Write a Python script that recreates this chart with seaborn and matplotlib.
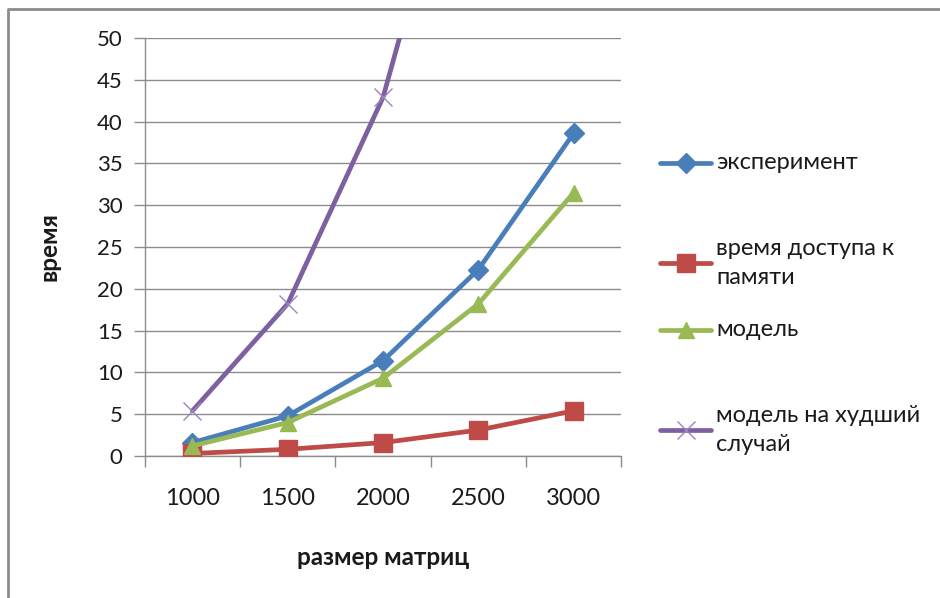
import matplotlib
matplotlib.use("Agg")
import matplotlib.pyplot as plt
from matplotlib.lines import Line2D
import seaborn as sns
import pandas as pd

# Matrix sizes and measured / modelled times
sizes = ["1000", "1500", "2000", "2500", "3000"]
experiment = [1.6, 4.8, 11.4, 22.3, 38.6]
memory_access = [0.3, 0.8, 1.6, 3.1, 5.4]
model = [1.2, 4.0, 9.3, 18.2, 31.5]
worst_case = [5.4, 18.2, 42.9, 84.0, 146.0]

series_names = ["эксперимент", "время доступа к\nпамяти", "модель",
                "модель на худший\nслучай"]
series_values = [experiment, memory_access, model, worst_case]
colors = ["#4A7EBB", "#BE4B48", "#98B954", "#7D60A0"]
markers = ["D", "s", "^", "x"]
marker_sizes = [10, 13, 12, 13]

y_ticks = list(range(0, 55, 5))

sns.set_theme(style="white")
plt.rcParams["font.family"] = ["Lato", "DejaVu Sans"]

rows = []
for name, vals in zip(series_names, series_values):
    for i, v in enumerate(vals):
        rows.append({"pos": i, "value": v, "series": name})
df = pd.DataFrame(rows)

fig = plt.figure(figsize=(9.4, 5.98), dpi=100)
ax = fig.add_axes([0.154, 0.2375, 0.507, 0.699])

cross_color = "#9A85C0"
for name, col, mk, ms in zip(series_names, colors, markers, marker_sizes):
    sub = df[df["series"] == name]
    sns.lineplot(data=sub, x="pos", y="value", ax=ax, color=col, lw=3.4,
                 marker=mk, markersize=ms,
                 markeredgecolor=col if mk != "x" else cross_color,
                 markeredgewidth=1.0,
                 markerfacecolor=col if mk != "x" else "none",
                 legend=False, zorder=3)

ax.set_xlim(-0.5, len(sizes) - 0.5)
ax.set_ylim(0, 50)
ax.set_yticks(y_ticks)
ax.set_yticklabels([str(t) for t in y_ticks])
ax.yaxis.grid(True, color="#8C8C8C", lw=1.0)
ax.set_axisbelow(True)

# category labels centred between boundary tick marks
ax.set_xticks([i - 0.5 for i in range(len(sizes) + 1)])
ax.set_xticklabels([""] * (len(sizes) + 1))
ax.set_xticks(range(len(sizes)), minor=True)
ax.set_xticklabels(sizes, minor=True)
ax.tick_params(axis="x", which="major", direction="out", length=8,
               width=1.0, color="#8C8C8C", bottom=True)
ax.tick_params(axis="x", which="minor", length=0, pad=23, labelsize=17,
               labelcolor="#1a1a1a")
ax.tick_params(axis="y", which="major", direction="out", length=8,
               width=1.0, color="#8C8C8C", left=True, pad=8, labelsize=16,
               labelcolor="#1a1a1a")

for side in ["top", "right"]:
    ax.spines[side].set_visible(False)
for side in ["left", "bottom"]:
    ax.spines[side].set_color("#8C8C8C")
    ax.spines[side].set_linewidth(1.0)

ax.set_xlabel("размер матриц", fontsize=17.5, fontweight="bold", labelpad=27,
              color="#1a1a1a")
ax.set_ylabel("время", fontsize=17.5, fontweight="bold", labelpad=26,
              color="#1a1a1a")

# legend entries laid out down the right-hand side
legend_y = [163, 263, 330, 430]
for name, col, mk, ms, yy in zip(series_names, colors, markers,
                                  marker_sizes, legend_y):
    yf = 1 - yy / 598
    fig.add_artist(Line2D([660 / 940, 711 / 940], [yf, yf], color=col, lw=3.4,
                          transform=fig.transFigure))
    fig.add_artist(Line2D([685.5 / 940], [yf], marker=mk, markersize=ms,
                          color=col,
                          markeredgecolor=col if mk != "x" else cross_color,
                          markerfacecolor=col if mk != "x" else "none",
                          transform=fig.transFigure))
    fig.text(716 / 940, yf, name, fontsize=17, va="center", ha="left",
             color="#1a1a1a", linespacing=1.45)

# outer chart border (top and left edges)
fig.add_artist(Line2D([8 / 940, 8 / 940, 1.0], [0.0, 1 - 9 / 598, 1 - 9 / 598],
                      color="#8C8C8C", lw=2.0, transform=fig.transFigure))

fig.savefig("out.png", dpi=100, facecolor="white")
